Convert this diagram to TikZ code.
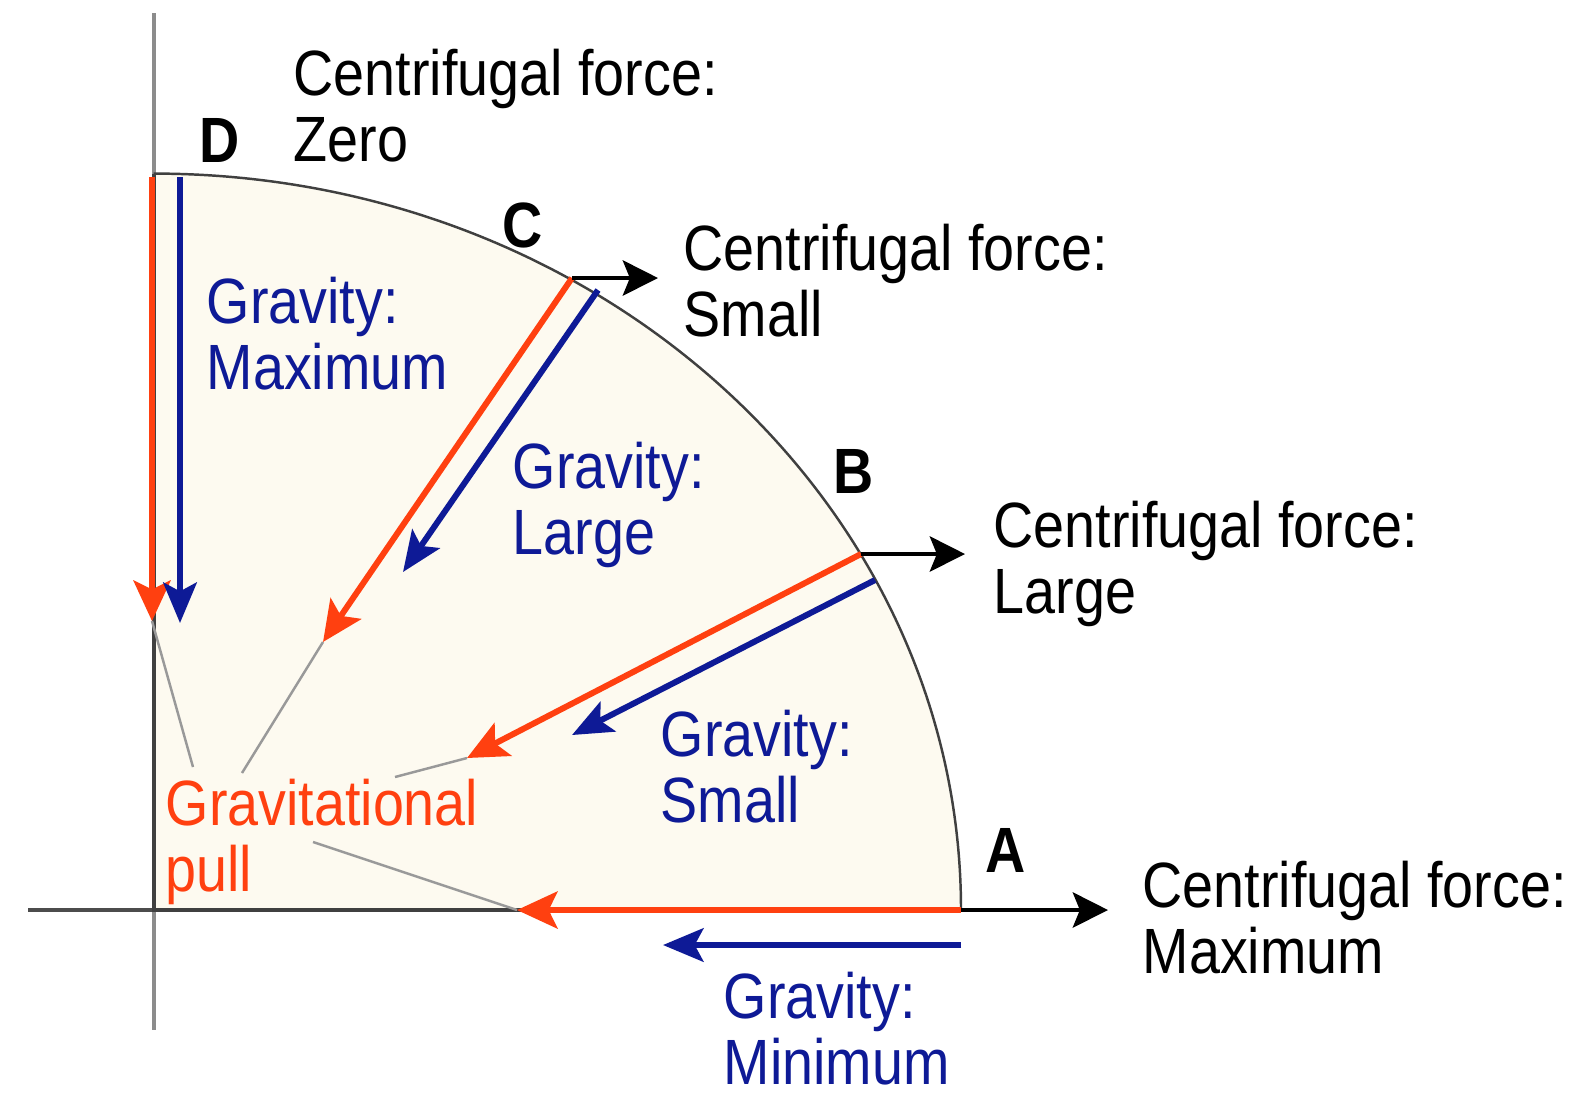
\documentclass[tikz,border=0pt]{standalone}
\usepackage{fontspec}
\setmainfont{Liberation Sans}[FakeStretch=0.87]
\usetikzlibrary{arrows.meta}
\definecolor{gred}{RGB}{255,64,16}
\definecolor{gblue}{RGB}{14,26,150}
\definecolor{cream}{RGB}{253,250,240}
\newcommand\tstrut{\rule{0pt}{14pt}}
\begin{document}
\begin{tikzpicture}[x=0.01cm,y=0.01cm,
  lbl/.style={font=\fontsize{18.2pt}{18.5pt}\selectfont, inner sep=0pt, align=left, anchor=north west},
  letter/.style={font=\fontsize{18.2pt}{18.5pt}\selectfont\bfseries, inner sep=0pt, anchor=base west},
  gravarrow/.style={gred, line width=1.7pt, -{Stealth[length=11.5pt,width=10.5pt,inset=2.5pt]}},
  bluearrow/.style={gblue, line width=1.7pt, -{Stealth[length=11.5pt,width=9.5pt,inset=2.5pt]}},
  cfug/.style={black, line width=1.3pt, -{Stealth[length=10pt,width=10pt,inset=2pt]}},
  leader/.style={black!40, line width=0.7pt}]
\useasboundingbox[fill=white] (0,0) rectangle (1579,-1096);
% key points
\coordinate (O) at (154,-910);
\coordinate (A) at (961,-910);
\coordinate (D) at (154,-174);
\coordinate (B) at (861,-554);
\coordinate (C) at (572,-278);
% sector fill
\fill[cream] (O) -- (A) arc[start angle=0,end angle=90,x radius=8.07cm,y radius=7.36cm] -- cycle;
% axes
\coordinate (ytop) at (154,-13);
\coordinate (ybot) at (154,-1030);
\coordinate (xleft) at (28,-910);
\draw[black!45, line width=0.9pt] (ytop) -- (ybot);
\draw[black!70, line width=0.9pt] (xleft) -- (A);
% sector outline
\draw[black!75, line width=0.7pt] (A) arc[start angle=0,end angle=90,x radius=8.07cm,y radius=7.36cm];
\draw[black!75, line width=1.2pt] (D) -- (O) -- (A);
% arrow end coordinates
\coordinate (Dr0) at (152,-177); \coordinate (Dr1) at (152,-621);
\coordinate (Db0) at (180,-177); \coordinate (Db1) at (180,-623);
\coordinate (Cr1) at (323,-642);
\coordinate (Cb0) at (598,-290); \coordinate (Cb1) at (403,-572);
\coordinate (Br1) at (467,-758);
\coordinate (Bb0) at (875,-580); \coordinate (Bb1) at (572,-735);
\coordinate (Ar1) at (517,-910);
\coordinate (Ab0) at (961,-945); \coordinate (Ab1) at (663,-945);
\coordinate (Cc) at (658,-278);
\coordinate (Bc) at (965,-554);
\coordinate (Ac) at (1108,-910);
% leader lines from the label
\coordinate (L1) at (193,-767);
\coordinate (L2) at (242,-773);
\coordinate (L3) at (395,-777);
\coordinate (L4) at (313,-842);
\draw[leader] (L1) -- (Dr1);
\draw[leader] (L2) -- (Cr1);
\draw[leader] (L3) -- (Br1);
\draw[leader] (L4) -- (Ar1);
% gravitational pull (red)
\draw[gravarrow] (Dr0) -- (Dr1);
\draw[gravarrow] (C) -- (Cr1);
\draw[gravarrow] (B) -- (Br1);
\draw[gravarrow] (A) -- (Ar1);
% gravity (blue)
\draw[bluearrow] (Db0) -- (Db1);
\draw[bluearrow] (Cb0) -- (Cb1);
\draw[bluearrow] (Bb0) -- (Bb1);
\draw[bluearrow] (Ab0) -- (Ab1);
% centrifugal (black)
\draw[cfug] (C) -- (Cc);
\draw[cfug] (B) -- (Bc);
\draw[cfug] (A) -- (Ac);
% point letters
\node[letter] (lD) at (199,-162) {D};
\node[letter] (lC) at (502,-247) {C};
\node[letter] (lB) at (833,-493) {B};
\node[letter] (lA) at (985,-872) {A};
% centrifugal labels
\node[lbl] (cZ) at (293,-46) {\tstrut Centrifugal force:\\Zero};
\node[lbl] (cS) at (683,-221) {\tstrut Centrifugal force:\\Small};
\node[lbl] (cL) at (993,-498) {\tstrut Centrifugal force:\\Large};
\node[lbl] (cM) at (1142,-858) {\tstrut Centrifugal force:\\Maximum};
% gravity labels
\node[lbl, text=gblue] (gMax) at (206,-274) {\tstrut Gravity:\\Maximum};
\node[lbl, text=gblue] (gL) at (512,-439) {\tstrut Gravity:\\Large};
\node[lbl, text=gblue] (gS) at (660,-707) {\tstrut Gravity:\\Small};
\node[lbl, text=gblue] (gMin) at (723,-969) {\tstrut Gravity:\\Minimum};
% gravitational pull label
\node[lbl, text=gred] (gp) at (165,-776) {\tstrut Gravitational\\pull};
\end{tikzpicture}
\end{document}
